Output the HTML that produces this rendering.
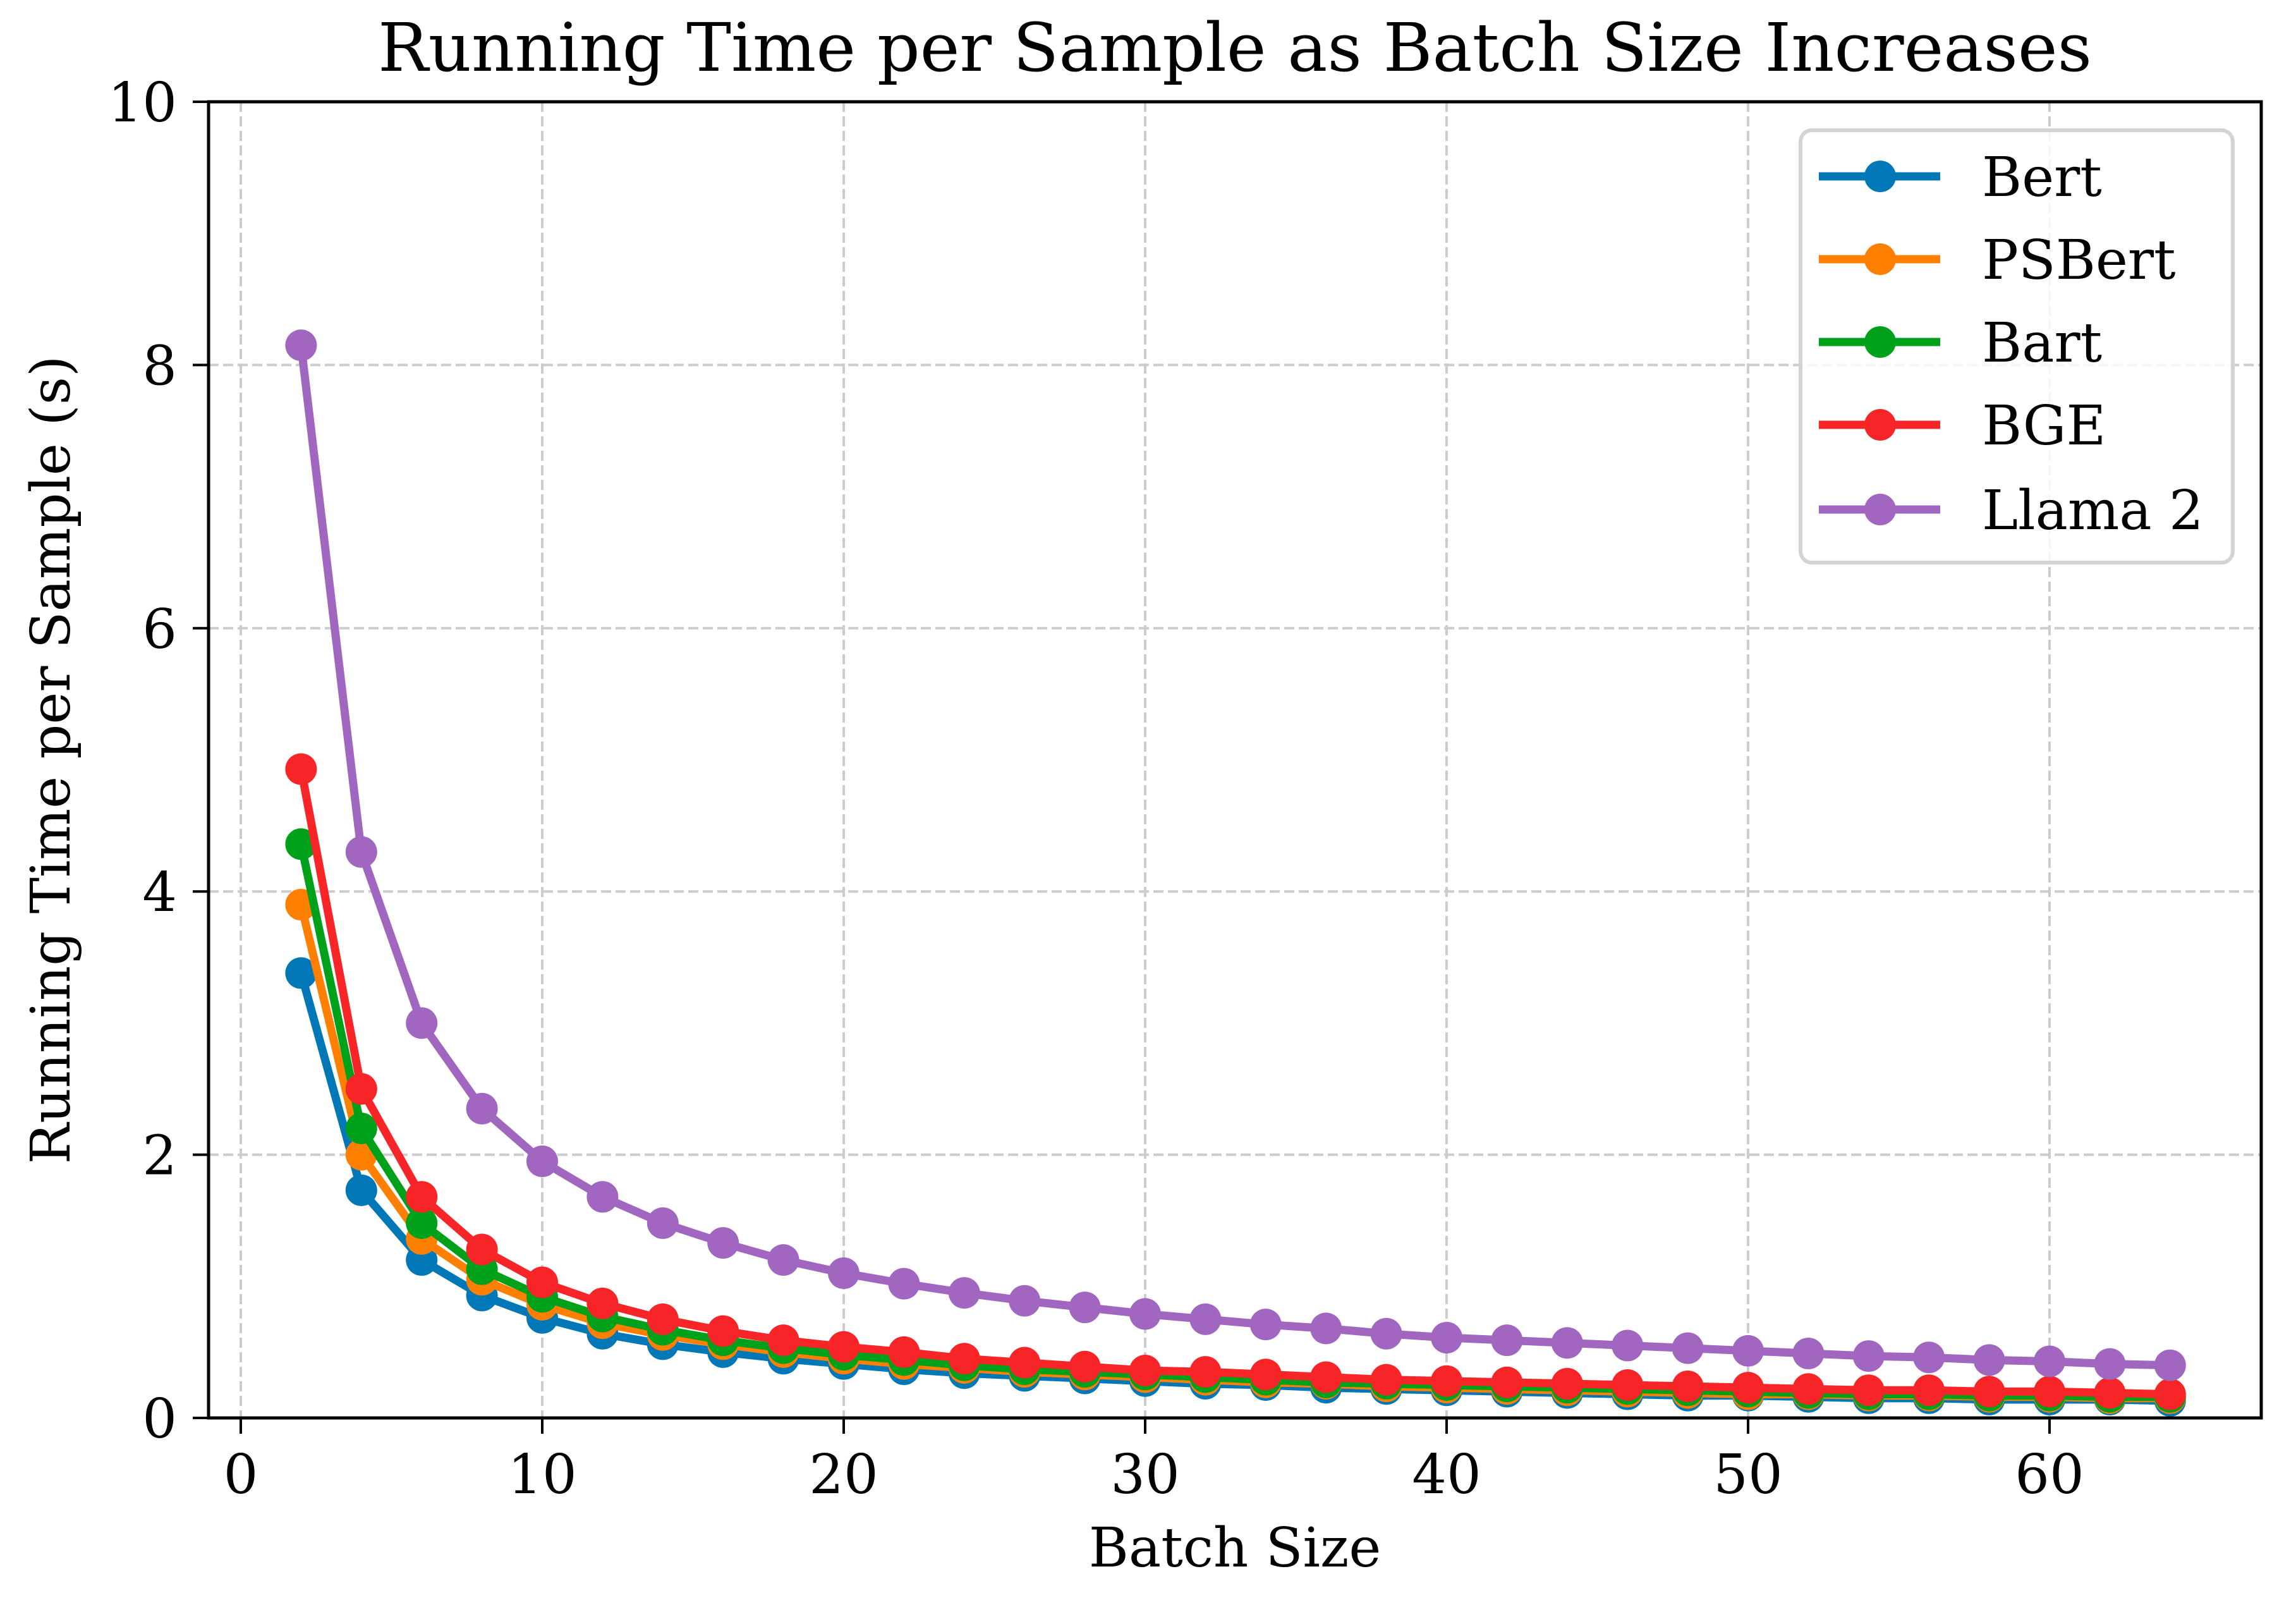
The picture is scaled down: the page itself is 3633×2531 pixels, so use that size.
<!DOCTYPE html>
<html><head><meta charset="utf-8"><style>
html,body{margin:0;padding:0;background:#fff;}
svg{display:block;font-family:"DejaVu Serif","Liberation Serif",serif;}
</style></head><body>
<svg id="chart" width="3633" height="2531" viewBox="0 0 3633 2531" xmlns="http://www.w3.org/2000/svg">
<rect width="3633" height="2531" fill="#fff"/>
<g id="grid"></g>
<g id="series"></g>
<rect x="330" y="161" width="3248" height="2082" fill="none" stroke="#000" stroke-width="5"/>
<g id="axes"></g>
<text x="1954" y="112" text-anchor="middle" font-size="106">Running Time per Sample as Batch Size Increases</text>
<text x="1954" y="2478" text-anchor="middle" font-size="86">Batch Size</text>
<text transform="translate(110,1202) rotate(-90)" text-anchor="middle" font-size="86">Running Time per Sample (s)</text>
<g id="legend"></g>
</svg>
<script>
const batchSizes = [2,4,6,8,10,12,14,16,18,20,22,24,26,28,30,32,34,36,38,40,42,44,46,48,50,52,54,56,58,60,62,64];
const bertValues = [3.38,1.73,1.2,0.93,0.76,0.64,0.56,0.5,0.45,0.41,0.37,0.34,0.32,0.3,0.28,0.26,0.25,0.23,0.22,0.21,0.2,0.19,0.18,0.17,0.17,0.16,0.15,0.15,0.14,0.14,0.14,0.13];
const psbertValues = [3.9,2.0,1.36,1.05,0.86,0.72,0.63,0.56,0.5,0.45,0.41,0.38,0.35,0.33,0.31,0.29,0.27,0.26,0.24,0.23,0.22,0.21,0.2,0.19,0.18,0.18,0.17,0.17,0.16,0.16,0.15,0.15];
const bartValues = [4.36,2.2,1.48,1.13,0.92,0.77,0.67,0.59,0.53,0.48,0.44,0.4,0.37,0.35,0.33,0.31,0.29,0.27,0.26,0.25,0.24,0.23,0.22,0.21,0.2,0.19,0.18,0.18,0.17,0.17,0.16,0.16];
const bgeValues = [4.93,2.5,1.68,1.28,1.03,0.87,0.75,0.66,0.59,0.54,0.5,0.45,0.42,0.39,0.36,0.35,0.33,0.31,0.29,0.28,0.27,0.26,0.25,0.24,0.23,0.22,0.21,0.21,0.2,0.2,0.19,0.18];
const llamaValues = [8.15,4.3,3.0,2.35,1.95,1.68,1.48,1.33,1.2,1.1,1.02,0.95,0.89,0.84,0.79,0.75,0.71,0.68,0.64,0.61,0.59,0.57,0.55,0.53,0.51,0.49,0.47,0.46,0.44,0.43,0.41,0.4];
const seriesNames = ["Bert","PSBert","Bart","BGE","Llama 2"];
const xTicks = [0,10,20,30,40,50,60];
const yTicks = [0,2,4,6,8,10];

const NS="http://www.w3.org/2000/svg";
const colors=["#0077b6","#ff7f00","#00a11a","#f72428","#a066c0"];
const allSeries=[bertValues,psbertValues,bartValues,bgeValues,llamaValues];
const X0=381, XU=47.7, Y0=2243, YU=208.2;
const sx=v=>X0+v*XU, sy=v=>Y0-v*YU;
function mk(tag,attrs,parent){const e=document.createElementNS(NS,tag);for(const k in attrs)e.setAttribute(k,attrs[k]);parent.appendChild(e);return e;}
const grid=document.getElementById('grid'),axes=document.getElementById('axes'),ser=document.getElementById('series'),leg=document.getElementById('legend');
xTicks.forEach(t=>{
  const g=mk('line',{x1:sx(t),x2:sx(t),y1:161,y2:2243,stroke:'#cccccc','stroke-width':4,'stroke-dasharray':'16 7'},grid);
  
  
  const tk=mk('line',{x1:sx(t),x2:sx(t),y1:2243,y2:2268,stroke:'#000','stroke-width':4},axes);
  
  
  const tx=mk('text',{x:sx(t),y:2362,'text-anchor':'middle','font-size':86},axes);
  tx.textContent=t;
  
  
});
yTicks.forEach(t=>{
  const g=mk('line',{x1:330,x2:3578,y1:sy(t),y2:sy(t),stroke:'#cccccc','stroke-width':4,'stroke-dasharray':'16 7'},grid);
  
  
  const tk=mk('line',{x1:305,x2:330,y1:sy(t),y2:sy(t),stroke:'#000','stroke-width':4},axes);
  
  
  const tx=mk('text',{x:280,y:sy(t)+31,'text-anchor':'end','font-size':86},axes);
  tx.textContent=t;
  
  
});
allSeries.forEach((vals,i)=>{
  const g=mk('g',{},ser);
  
  
  const pts=vals.map((v,j)=>sx(batchSizes[j])+','+sy(v)).join(' ');
  const pl=mk('polyline',{points:pts,fill:'none',stroke:colors[i],'stroke-width':13,'stroke-linejoin':'round'},g);
  
  
  vals.forEach((v,j)=>{
    const c=mk('circle',{cx:sx(batchSizes[j]),cy:sy(v),r:25,fill:colors[i]},g);
    
    
  });
});
const box=mk('rect',{x:2849,y:206,width:684,height:684,rx:18,fill:'#fff','fill-opacity':0.8,stroke:'#d3d3d3','stroke-width':6},leg);


const rows=[279,410,541,672,806];
seriesNames.forEach((n,i)=>{
  const g=mk('g',{},leg);
  
  
  mk('line',{x1:2878,x2:3070,y1:rows[i],y2:rows[i],stroke:colors[i],'stroke-width':13},g);
  mk('circle',{cx:2975,cy:rows[i],r:25,fill:colors[i]},g);
  const t=mk('text',{x:3136,y:rows[i]+31,'font-size':86},g);
  t.textContent=n;
});
</script>
</body></html>
